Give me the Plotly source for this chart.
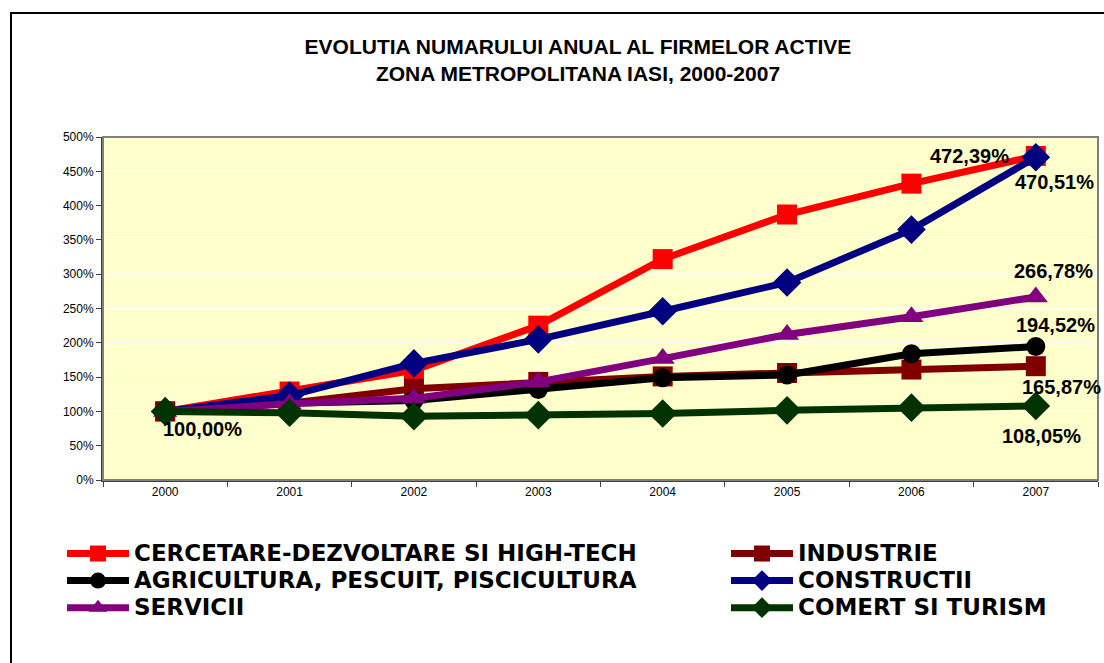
import plotly.graph_objects as go

years = ['2000', '2001', '2002', '2003', '2004', '2005', '2006', '2007']
cercetare = [100, 129, 160, 225, 322, 387, 432, 472.39]
industrie = [100, 112, 133, 143, 151, 156, 161, 165.87]
agricultura = [100, 112, 116, 132, 149, 153, 184, 194.52]
constructii = [100, 123, 170, 205, 246, 288, 365, 470.51]
servicii = [100, 111, 119, 143, 177, 212, 238, 266.78]
comert = [100, 98, 93, 94.5, 97, 101.5, 105.5, 108.05]

names = {
    'cercetare': 'CERCETARE-DEZVOLTARE SI HIGH-TECH',
    'industrie': 'INDUSTRIE',
    'agricultura': 'AGRICULTURA, PESCUIT, PISCICULTURA',
    'constructii': 'CONSTRUCTII',
    'servicii': 'SERVICII',
    'comert': 'COMERT SI TURISM',
}

FONT = 'Liberation Sans, Arial, sans-serif'
LEG_FONT = 'DejaVu Sans, Liberation Sans, Arial, sans-serif'

# plot-area geometry in page pixels (for placing legend/frame in paper coords)
L, R, T, B = 103, 1098, 137, 480
PW, PH = R - L, B - T


def px_x(p):
    return (p - L) / PW


def px_y(p):
    return (B - p) / PH


series = [
    ('cercetare', cercetare, '#FF0000', 'square', 20, 'legend'),
    ('industrie', industrie, '#800000', 'square', 20, 'legend2'),
    ('agricultura', agricultura, '#000000', 'circle', 19, 'legend'),
    ('constructii', constructii, '#000080', 'diamond', 22, 'legend2'),
    ('servicii', servicii, '#800080', 'triangle-up', 21, 'legend'),
    ('comert', comert, '#003300', 'diamond', 22, 'legend2'),
]

fig = go.Figure()
for key, vals, color, sym, size, leg in series:
    fig.add_trace(go.Scatter(
        x=years, y=vals, mode='lines+markers',
        name='<span style="font-size:23px"><b>' + names[key] + '</b></span>',
        line=dict(color=color, width=7),
        marker=dict(color=color, symbol=sym, size=size, line=dict(width=0)),
        legend=leg,
    ))

# value labels: (category index, value, x offset px, y offset px)
first, last = 0, len(years) - 1
label_specs = [
    (first, cercetare[first], 37, -18),
    (last, cercetare[last], -66, 0),
    (last, constructii[last], 19, -25),
    (last, servicii[last], 18, 26),
    (last, agricultura[last], 20, 22),
    (last, industrie[last], 26, -21),
    (last, comert[last], 6, -30),
]
for xi, yv, dx, dy in label_specs:
    fig.add_annotation(
        x=xi, y=yv, xref='x', yref='y', showarrow=False,
        text='<b>' + f'{yv:.2f}'.replace('.', ',') + '%</b>',
        font=dict(family=FONT, size=20, color='black'),
        xshift=dx, yshift=dy,
    )

# outer chart frame
fig.add_shape(type='rect', xref='paper', yref='paper',
              x0=px_x(11), x1=px_x(1110), y0=px_y(670), y1=px_y(13),
              line=dict(color='black', width=2), fillcolor='rgba(0,0,0,0)', layer='above')
# plot area border
fig.add_shape(type='rect', xref='paper', yref='paper', x0=0, x1=1, y0=0, y1=1,
              line=dict(color='#808080', width=2), fillcolor='rgba(0,0,0,0)', layer='above')

legend_common = dict(
    xref='paper', yref='paper', xanchor='left', yanchor='top',
    bgcolor='rgba(0,0,0,0)', font=dict(family=LEG_FONT, size=18.5, color='black'),
    itemwidth=62, tracegroupgap=0, orientation='v',
)

fig.update_layout(
    width=1104, height=663,
    margin=dict(l=L, r=1104 - R, t=T, b=663 - B, autoexpand=False),
    paper_bgcolor='white', plot_bgcolor='#FFFFCC',
    font=dict(family=FONT, color='black'),
    title=dict(
        text='<b>EVOLUTIA NUMARULUI ANUAL AL FIRMELOR ACTIVE<br>ZONA METROPOLITANA IASI, 2000-2007</b>',
        font=dict(family=FONT, size=21, color='black'),
        x=578 / 1104, xanchor='center', xref='container',
        y=1 - 54 / 663, yanchor='top', yref='container',
    ),
    xaxis=dict(
        type='category', tickson='boundaries', ticks='outside', ticklen=5,
        tickcolor='#404040', tickwidth=1,
        showline=True, linecolor='#404040', linewidth=2,
        showgrid=False, tickfont=dict(family=FONT, size=12, color='black'),
        range=[-0.5, 7.5],
    ),
    yaxis=dict(
        range=[0, 500], dtick=50, ticksuffix='%', ticks='outside', ticklen=5,
        tickcolor='#404040', showline=True, linecolor='#404040', linewidth=2,
        gridcolor='white', gridwidth=1, zeroline=False,
        tickfont=dict(family=FONT, size=12, color='black'),
    ),
    legend=dict(x=px_x(62), y=px_y(535), **legend_common),
    legend2=dict(x=px_x(726), y=px_y(535), **legend_common),
    showlegend=True,
)

fig.write_html(
    "out.html",
    config={'displayModeBar': False},
    post_script="document.body.style.margin='0';document.body.style.overflow='hidden';",
)
